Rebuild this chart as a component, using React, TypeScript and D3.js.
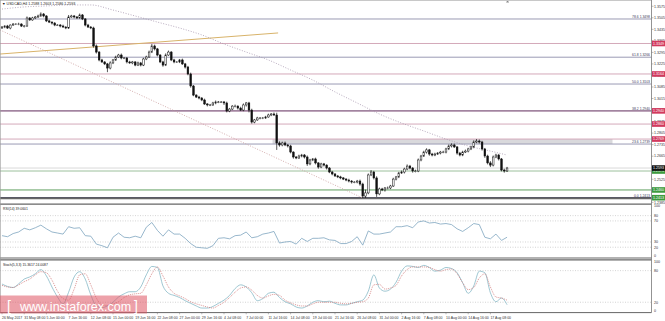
import React from 'react';
import * as d3 from 'd3';

const W = 665;
const H = 321;

const TITLE = 'USDCAD,H4  1.2588 1.2603 1.2586 1.2593';
const RSI_TITLE = 'RSI(14) 39.0601';
const STOCH_TITLE = 'Stoch(5,3,3) 15.3617 24.0087';

// one candle = 8 hours (two H4 bars); a date label every 8 candles
const dateLabels = ['26 May 2017', '31 May 08:00', '5 Jun 00:00', '7 Jun 16:00', '12 Jun 08:00', '15 Jun 00:00', '19 Jun 16:00', '22 Jun 08:00', '27 Jun 00:00', '29 Jun 16:00', '4 Jul 08:00', '7 Jul 00:00', '11 Jul 16:00', '14 Jul 08:00', '19 Jul 00:00', '21 Jul 16:00', '26 Jul 08:00', '31 Jul 00:00', '2 Aug 16:00', '7 Aug 08:00', '10 Aug 00:00', '14 Aug 16:00', '17 Aug 08:00'];

const firstOpen = 1.3443;
const closes = [
  1.3449, 1.3455, 1.3443, 1.3461, 1.3467, 1.3467, 1.3467, 1.3455, 1.3455, 1.3504,
  1.3492, 1.3504, 1.3510, 1.3516, 1.3528, 1.3516, 1.3486, 1.3479, 1.3473, 1.3461,
  1.3461, 1.3455, 1.3449, 1.3443, 1.3510, 1.3516, 1.3510, 1.3504, 1.3522, 1.3498,
  1.3461, 1.3449, 1.3443, 1.3334, 1.3297, 1.3249, 1.3237, 1.3225, 1.3200, 1.3231,
  1.3249, 1.3267, 1.3279, 1.3261, 1.3261, 1.3237, 1.3231, 1.3237, 1.3218, 1.3231,
  1.3218, 1.3255, 1.3267, 1.3297, 1.3334, 1.3316, 1.3279, 1.3237, 1.3218, 1.3279,
  1.3297, 1.3249, 1.3237, 1.3237, 1.3249, 1.3225, 1.3206, 1.3164, 1.3091, 1.3036,
  1.3024, 1.3018, 1.3006, 1.2982, 1.2976, 1.2976, 1.2988, 1.2994, 1.2994, 1.2994,
  1.2988, 1.2939, 1.2951, 1.2969, 1.2969, 1.2957, 1.2945, 1.2976, 1.2988, 1.2945,
  1.2872, 1.2885, 1.2897, 1.2897, 1.2897, 1.2903, 1.2915, 1.2921, 1.2915, 1.2745,
  1.2733, 1.2745, 1.2733, 1.2727, 1.2690, 1.2660, 1.2654, 1.2666, 1.2672, 1.2660,
  1.2618, 1.2642, 1.2648, 1.2624, 1.2599, 1.2618, 1.2611, 1.2593, 1.2569, 1.2557,
  1.2545, 1.2539, 1.2533, 1.2526, 1.2520, 1.2514, 1.2508, 1.2508, 1.2514, 1.2496,
  1.2423, 1.2442, 1.2551, 1.2569, 1.2533, 1.2436, 1.2466, 1.2460, 1.2472, 1.2472,
  1.2484, 1.2526, 1.2539, 1.2563, 1.2569, 1.2587, 1.2605, 1.2593, 1.2575, 1.2575,
  1.2642, 1.2666, 1.2690, 1.2703, 1.2678, 1.2672, 1.2678, 1.2684, 1.2690, 1.2690,
  1.2709, 1.2727, 1.2733, 1.2721, 1.2684, 1.2672, 1.2690, 1.2696, 1.2709, 1.2721,
  1.2751, 1.2757, 1.2751, 1.2709, 1.2666, 1.2624, 1.2611, 1.2660, 1.2672, 1.2648,
  1.2581, 1.2575, 1.2593,
];
// wick lengths in pips above / below the body
const wickUpPips = [
  6, 5, 7, 4, 6, 5, 8, 5, 6, 9, 5, 7, 6, 8, 10, 6, 5, 7, 4, 6,
  5, 6, 8, 5, 12, 7, 6, 5, 9, 6, 5, 7, 6, 8, 9, 6, 7, 5, 6, 10,
  6, 8, 7, 9, 5, 6, 7, 6, 5, 8, 6, 7, 8, 9, 12, 8, 6, 5, 7, 10,
  9, 6, 7, 5, 6, 8, 6, 7, 8, 6, 5, 7, 6, 8, 5, 6, 7, 9, 6, 5,
  6, 8, 7, 6, 9, 5, 8, 9, 6, 7, 8, 6, 7, 5, 6, 7, 8, 6, 9, 14,
  10, 8, 9, 6, 7, 5, 6, 8, 7, 6, 9, 7, 6, 8, 5, 7, 6, 5, 6, 7,
  5, 6, 7, 5, 6, 8, 6, 5, 7, 9, 8, 20, 9, 12, 7, 10, 8, 7, 6, 9,
  7, 8, 6, 7, 9, 8, 10, 7, 6, 8, 9, 7, 8, 10, 6, 7, 8, 6, 7, 8,
  7, 9, 10, 8, 6, 7, 8, 9, 7, 8, 10, 12, 9, 7, 6, 8, 11, 9, 8, 7,
  6, 8, 7,
];
const wickDnPips = [
  5, 7, 6, 8, 5, 6, 7, 6, 9, 5, 6, 5, 7, 6, 5, 8, 7, 6, 9, 7,
  6, 8, 5, 7, 6, 5, 8, 6, 5, 7, 8, 6, 7, 10, 9, 8, 6, 7, 25, 8,
  7, 6, 5, 8, 7, 9, 6, 8, 7, 6, 8, 6, 7, 5, 6, 9, 8, 7, 10, 6,
  5, 7, 8, 6, 7, 6, 9, 8, 10, 7, 6, 8, 7, 6, 9, 7, 6, 8, 7, 6,
  12, 8, 7, 6, 8, 9, 6, 7, 10, 14, 9, 7, 6, 8, 7, 6, 5, 7, 6, 42,
  10, 8, 7, 9, 8, 10, 7, 6, 8, 9, 12, 8, 7, 9, 10, 7, 8, 9, 7, 8,
  6, 7, 8, 6, 7, 8, 9, 7, 8, 10, 15, 12, 8, 7, 9, 18, 8, 7, 10, 8,
  7, 6, 8, 7, 6, 9, 7, 8, 10, 8, 7, 8, 6, 9, 10, 8, 7, 6, 8, 7,
  8, 7, 9, 6, 10, 8, 7, 6, 8, 7, 8, 7, 9, 10, 11, 9, 12, 8, 7, 9,
  8, 10, 6,
];

// long moving average (dotted), sampled at the date-label candles and the last candle
const maIndex = [0, 8, 16, 24, 32, 40, 48, 56, 64, 72, 80, 88, 96, 104, 112, 120, 128, 136, 144, 152, 160, 168, 176, 182];
const maValues = [1.3558, 1.3571, 1.3577, 1.3583, 1.3583, 1.3552, 1.3516, 1.3479, 1.3443, 1.3401, 1.3346, 1.3297, 1.3249, 1.3188, 1.3127, 1.3055, 1.2988, 1.2921, 1.2866, 1.2818, 1.2769, 1.2727, 1.2696, 1.2672];

// channel and trend lines: [candle index, price]
const channelLine = [[-0.72, 1.3431], [130, 1.2411]];
const trendLine = [[-0.72, 1.3285], [99.5, 1.3413]];

// Fibonacci retracement of the 1.3793 -> 1.2413 swing
const fibHigh = 1.3793;
const fibLow = 1.2413;
const fibLevels = [0, 23.6, 38.2, 50, 61.8, 78.6];

const resistanceLevels = [1.3349, 1.3164, 1.2940, 1.2860, 1.2769];
const supportLevels = [1.2575, 1.2460, 1.2413];
const lastPrice = 1.2593;
const zone = { from: 97.5, to: 220, low: 1.2739, high: 1.2769 };

const priceTicks = [1.3575, 1.3505, 1.3435, 1.3365, 1.3295, 1.3225, 1.3155, 1.3085, 1.3015, 1.2945, 1.2875, 1.2805, 1.2735, 1.2665, 1.2595, 1.2525, 1.2455, 1.2385];

// indicators sampled every second candle
const rsiValues = [
  42, 40, 46, 49, 56, 53, 57, 62, 55, 49, 47, 45, 59, 56, 57, 42, 41, 26, 23, 19,
  39, 47, 39, 38, 41, 38, 58, 67, 52, 41, 53, 45, 45, 37, 27, 20, 19, 18, 23, 37,
  38, 36, 42, 43, 49, 38, 40, 45, 47, 50, 28, 30, 31, 26, 37, 31, 37, 37, 38, 34,
  33, 27, 27, 31, 40, 24, 51, 45, 45, 47, 49, 59, 59, 61, 57, 68, 70, 66, 67, 64,
  65, 63, 55, 50, 57, 65, 63, 39, 36, 45, 33, 39.06,
];
const rsiLevels = [80, 70, 30, 20];
const rsiTicks = [100, 80, 70, 30, 20, 0];

const stochMain = [
  54.6, 50, 48, 55, 64, 68, 74, 82, 70, 49, 30, 17, 39, 68, 78, 64, 34, 13, 10, 13,
  20, 30, 36, 40, 40, 49, 72, 88, 86, 51, 37, 33, 29, 23, 18, 13, 9, 9, 12, 18,
  24, 33, 46, 53, 49, 38, 23, 27, 37, 39, 29, 21, 17, 11, 9, 13, 20, 23, 21, 22,
  18, 15, 15, 18, 21, 24, 41, 72, 47, 41, 45, 58, 79, 89, 88, 86, 90, 86, 79, 81,
  86, 84, 76, 57, 37, 51, 79, 76, 38, 21, 28, 15.36,
];
const stochSignal = [
  52, 49, 48, 53, 59, 64, 72, 78, 76, 62, 41, 27, 24, 45, 72, 74, 53, 28, 15, 14,
  17, 21, 29, 34, 36, 37, 53, 74, 87, 70, 49, 37, 32, 27, 21, 17, 14, 11, 9, 14,
  20, 29, 39, 47, 49, 43, 33, 28, 32, 35, 33, 24, 19, 15, 13, 13, 17, 20, 20, 20,
  20, 18, 17, 18, 20, 21, 28, 53, 54, 45, 47, 52, 70, 82, 87, 87, 87, 86, 82, 79,
  82, 83, 74, 57, 44, 48, 66, 74, 49, 30, 28, 24,
];
const stochLevels = [80, 20];
const stochTicks = [100, 80, 20, 0];

const FONT = 'Liberation Sans, Arial, sans-serif';
const AXIS_X = 651.5;

export default function App() {
  const x = d3.scaleLinear().domain([0, 182]).range([2, 507.05]);
  const yP = d3.scaleLinear().domain([1.2413, 1.3613]).range([197.7, 0]);
  const yR = d3.scaleLinear().domain([0, 100]).range([257.8, 205.1]);
  const yS = d3.scaleLinear().domain([0, 100]).range([312.8, 260.1]);

  const candles = closes.map((c, i) => {
    const o = i === 0 ? firstOpen : closes[i - 1];
    const hi = Math.max(o, c) + wickUpPips[i] * 0.0001;
    const lo = Math.min(o, c) - wickDnPips[i] * 0.0001;
    return { i, o, c, hi, lo };
  });

  const maPath = d3.line<number>().x((_, k) => x(maIndex[k])).y((v) => yP(v)).curve(d3.curveMonotoneX)(maValues) || '';
  const rsiPath = d3.line<number>().x((_, k) => x(k * 2)).y((v) => yR(v))(rsiValues) || '';
  const stMainPath = d3.line<number>().x((_, k) => x(k * 2)).y((v) => yS(v)).curve(d3.curveMonotoneX)(stochMain) || '';
  const stSigPath = d3.line<number>().x((_, k) => x(k * 2)).y((v) => yS(v)).curve(d3.curveMonotoneX)(stochSignal) || '';
  const seg = (pts: number[][]) => d3.line<number[]>().x((p) => x(p[0])).y((p) => yP(p[1]))(pts) || '';

  const fibPrice = (l: number) => fibLow + (fibHigh - fibLow) * l / 100;

  const labelBox = (p: number, fill: string, key: string) => (
    <g key={key}>
      <rect x={652} y={yP(p) - 2.8} width={13} height={5.6} fill={fill} />
      <text x={653} y={yP(p) + 1.3} fontSize={3.6} fill="#fff" fontFamily={FONT}>{p.toFixed(4)}</text>
    </g>
  );

  // keep the edge labels of the two indicator panels apart
  const rsiTickY = (v: number) => (v === 0 ? yR(v) - 0.8 : v === 100 ? yR(v) + 2.2 : yR(v) + 1.3);
  const stTickY = (v: number) => (v === 100 ? yS(v) + 3.2 : v === 0 ? yS(v) - 0.6 : yS(v) + 1.3);

  return (
    <svg width={W} height={H} style={{ position: 'fixed', left: 0, top: 0, background: '#fff' }}>
      <rect x={0} y={0} width={W} height={H} fill="#fff" />
      <defs>
        <clipPath id="mainClip"><rect x={0} y={0} width={AXIS_X} height={198.3} /></clipPath>
        <clipPath id="rsiClip"><rect x={0} y={204.5} width={AXIS_X} height={53} /></clipPath>
        <clipPath id="stClip"><rect x={0} y={260} width={AXIS_X} height={52.3} /></clipPath>
      </defs>

      {/* ---------- main panel ---------- */}
      <g clipPath="url(#mainClip)">
        <rect x={x(zone.from)} y={yP(zone.high)} width={x(zone.to) - x(zone.from)} height={yP(zone.low) - yP(zone.high)} fill="#d9d9dc" />
        {resistanceLevels.map((p) => (
          <line key={'r' + p} x1={0} x2={AXIS_X} y1={yP(p)} y2={yP(p)} stroke="#d4a9ba" strokeWidth={1} />
        ))}
        {fibLevels.map((l) => (
          <line key={'f' + l} x1={0} x2={AXIS_X} y1={yP(fibPrice(l))} y2={yP(fibPrice(l))}
            stroke={l === 0 ? '#5a5a66' : l === 38.2 ? '#8c6d8f' : '#9a9ab4'} strokeWidth={l === 0 || l === 38.2 ? 1.4 : 1} />
        ))}
        <line x1={0} x2={AXIS_X} y1={yP(supportLevels[0])} y2={yP(supportLevels[0])} stroke="#9cc09c" strokeWidth={1} />
        <line x1={0} x2={AXIS_X} y1={yP(supportLevels[1])} y2={yP(supportLevels[1])} stroke="#5f9e5f" strokeWidth={1} />
        <line x1={0} x2={AXIS_X} y1={yP(lastPrice)} y2={yP(lastPrice)} stroke="#d0d0d0" strokeWidth={0.8} />

        <path d={seg(trendLine)} stroke="#d8b36a" strokeWidth={1} fill="none" />
        <path d={seg(channelLine)} stroke="#c99a9a" strokeWidth={0.8} strokeDasharray="1,1.6" fill="none" />
        <path d={maPath} stroke="#a797ae" strokeWidth={0.8} strokeDasharray="1,1.6" fill="none" />

        {candles.map((d) => {
          const cx = x(d.i);
          const top = yP(Math.max(d.o, d.c));
          const bot = yP(Math.min(d.o, d.c));
          const bull = d.c >= d.o;
          return (
            <g key={d.i}>
              <line x1={cx} x2={cx} y1={yP(d.hi)} y2={yP(d.lo)} stroke="#111" strokeWidth={0.7} />
              <rect x={cx - 0.85} y={top} width={1.7} height={Math.max(0.6, bot - top)}
                fill={bull ? '#fff' : '#111'} stroke="#111" strokeWidth={0.5} />
            </g>
          );
        })}

        {fibLevels.map((l) => (
          <text key={'ft' + l} x={650} y={yP(fibPrice(l)) - 1} fontSize={3.4} fill="#3c3c5a" textAnchor="end" fontFamily={FONT}>
            {l.toFixed(1)} {fibPrice(l).toFixed(4)}
          </text>
        ))}
        <text x={2} y={4.5} fontSize={3.6} fill="#222" fontFamily={FONT}>{'\u25BC ' + TITLE}</text>
      </g>
      <path d={`M${x(182) + 0.5},0 l-1.5,2.5 h3 z`} fill="#888" />

      {/* main right axis */}
      {priceTicks.map((p) => (
        <g key={'pt' + p}>
          <line x1={AXIS_X} x2={AXIS_X + 2} y1={yP(p)} y2={yP(p)} stroke="#777" strokeWidth={0.5} />
          <text x={654} y={yP(p) + 1.3} fontSize={3.6} fill="#333" fontFamily={FONT}>{p.toFixed(4)}</text>
        </g>
      ))}
      {resistanceLevels.map((p) => labelBox(p, '#d23a5e', 'rb' + p))}
      {supportLevels.map((p) => labelBox(p, '#3e9a3e', 'sb' + p))}
      {labelBox(lastPrice, '#111', 'last')}

      {/* ---------- RSI panel ---------- */}
      <g clipPath="url(#rsiClip)">
        {rsiLevels.map((v) => (
          <line key={'rl' + v} x1={0} x2={AXIS_X} y1={yR(v)} y2={yR(v)} stroke="#b8b8b8" strokeWidth={0.6} strokeDasharray="1,1.5" />
        ))}
        <path d={rsiPath} stroke="#7ea5bf" strokeWidth={0.8} fill="none" />
        <text x={3} y={210} fontSize={3.4} fill="#222" fontFamily={FONT}>{RSI_TITLE}</text>
      </g>
      {rsiTicks.map((v) => (
        <text key={'rt' + v} x={654} y={rsiTickY(v)} fontSize={3.6} fill="#333" fontFamily={FONT}>{v}</text>
      ))}

      {/* ---------- Stochastic panel ---------- */}
      <g clipPath="url(#stClip)">
        {stochLevels.map((v) => (
          <line key={'sl' + v} x1={0} x2={AXIS_X} y1={yS(v)} y2={yS(v)} stroke="#b8b8b8" strokeWidth={0.6} strokeDasharray="1,1.5" />
        ))}
        <path d={stMainPath} stroke="#86b9c6" strokeWidth={0.8} fill="none" />
        <path d={stSigPath} stroke="#d27a7a" strokeWidth={0.8} strokeDasharray="1,1" fill="none" />
        <text x={3} y={265.5} fontSize={3.4} fill="#222" fontFamily={FONT}>{STOCH_TITLE}</text>
      </g>
      {stochTicks.map((v) => (
        <text key={'st' + v} x={654} y={stTickY(v)} fontSize={3.6} fill="#333" fontFamily={FONT}>{v}</text>
      ))}

      {/* ---------- frames ---------- */}
      <line x1={0} x2={AXIS_X} y1={0.5} y2={0.5} stroke="#c8c8c8" strokeWidth={1} />
      <line x1={0} x2={AXIS_X} y1={198.6} y2={198.6} stroke="#666" strokeWidth={1.2} />
      <line x1={0} x2={AXIS_X} y1={204.2} y2={204.2} stroke="#666" strokeWidth={1.2} />
      <line x1={0} x2={AXIS_X} y1={258} y2={258} stroke="#666" strokeWidth={1.2} />
      <line x1={0} x2={AXIS_X} y1={259.8} y2={259.8} stroke="#666" strokeWidth={1.2} />
      <line x1={0} x2={AXIS_X} y1={312.6} y2={312.6} stroke="#666" strokeWidth={1} />
      <line x1={AXIS_X} x2={AXIS_X} y1={0} y2={312.6} stroke="#777" strokeWidth={0.8} />
      <line x1={0.5} x2={0.5} y1={0} y2={312.6} stroke="#999" strokeWidth={0.6} />

      {/* ---------- x axis ---------- */}
      {dateLabels.map((t, k) => (
        <g key={'d' + k}>
          <line x1={x(k * 8)} x2={x(k * 8)} y1={312.6} y2={314.3} stroke="#777" strokeWidth={0.5} />
          <text x={x(k * 8)} y={318.5} fontSize={3.5} fill="#333" fontFamily={FONT}>{t}</text>
        </g>
      ))}

      {/* ---------- watermark ---------- */}
      <rect x={0} y={295.5} width={147} height={18} fill="rgba(222,84,98,0.55)" />
      <text x={7} y={310.5} fontSize={14} fill="#fff" fontFamily={FONT} fontWeight={300}>[</text>
      <text x={20} y={310.5} fontSize={12.5} fill="#fff" fontFamily={FONT}>www.instaforex.com</text>
      <text x={134} y={310.5} fontSize={14} fill="#fff" fontFamily={FONT}>]</text>
    </svg>
  );
}
